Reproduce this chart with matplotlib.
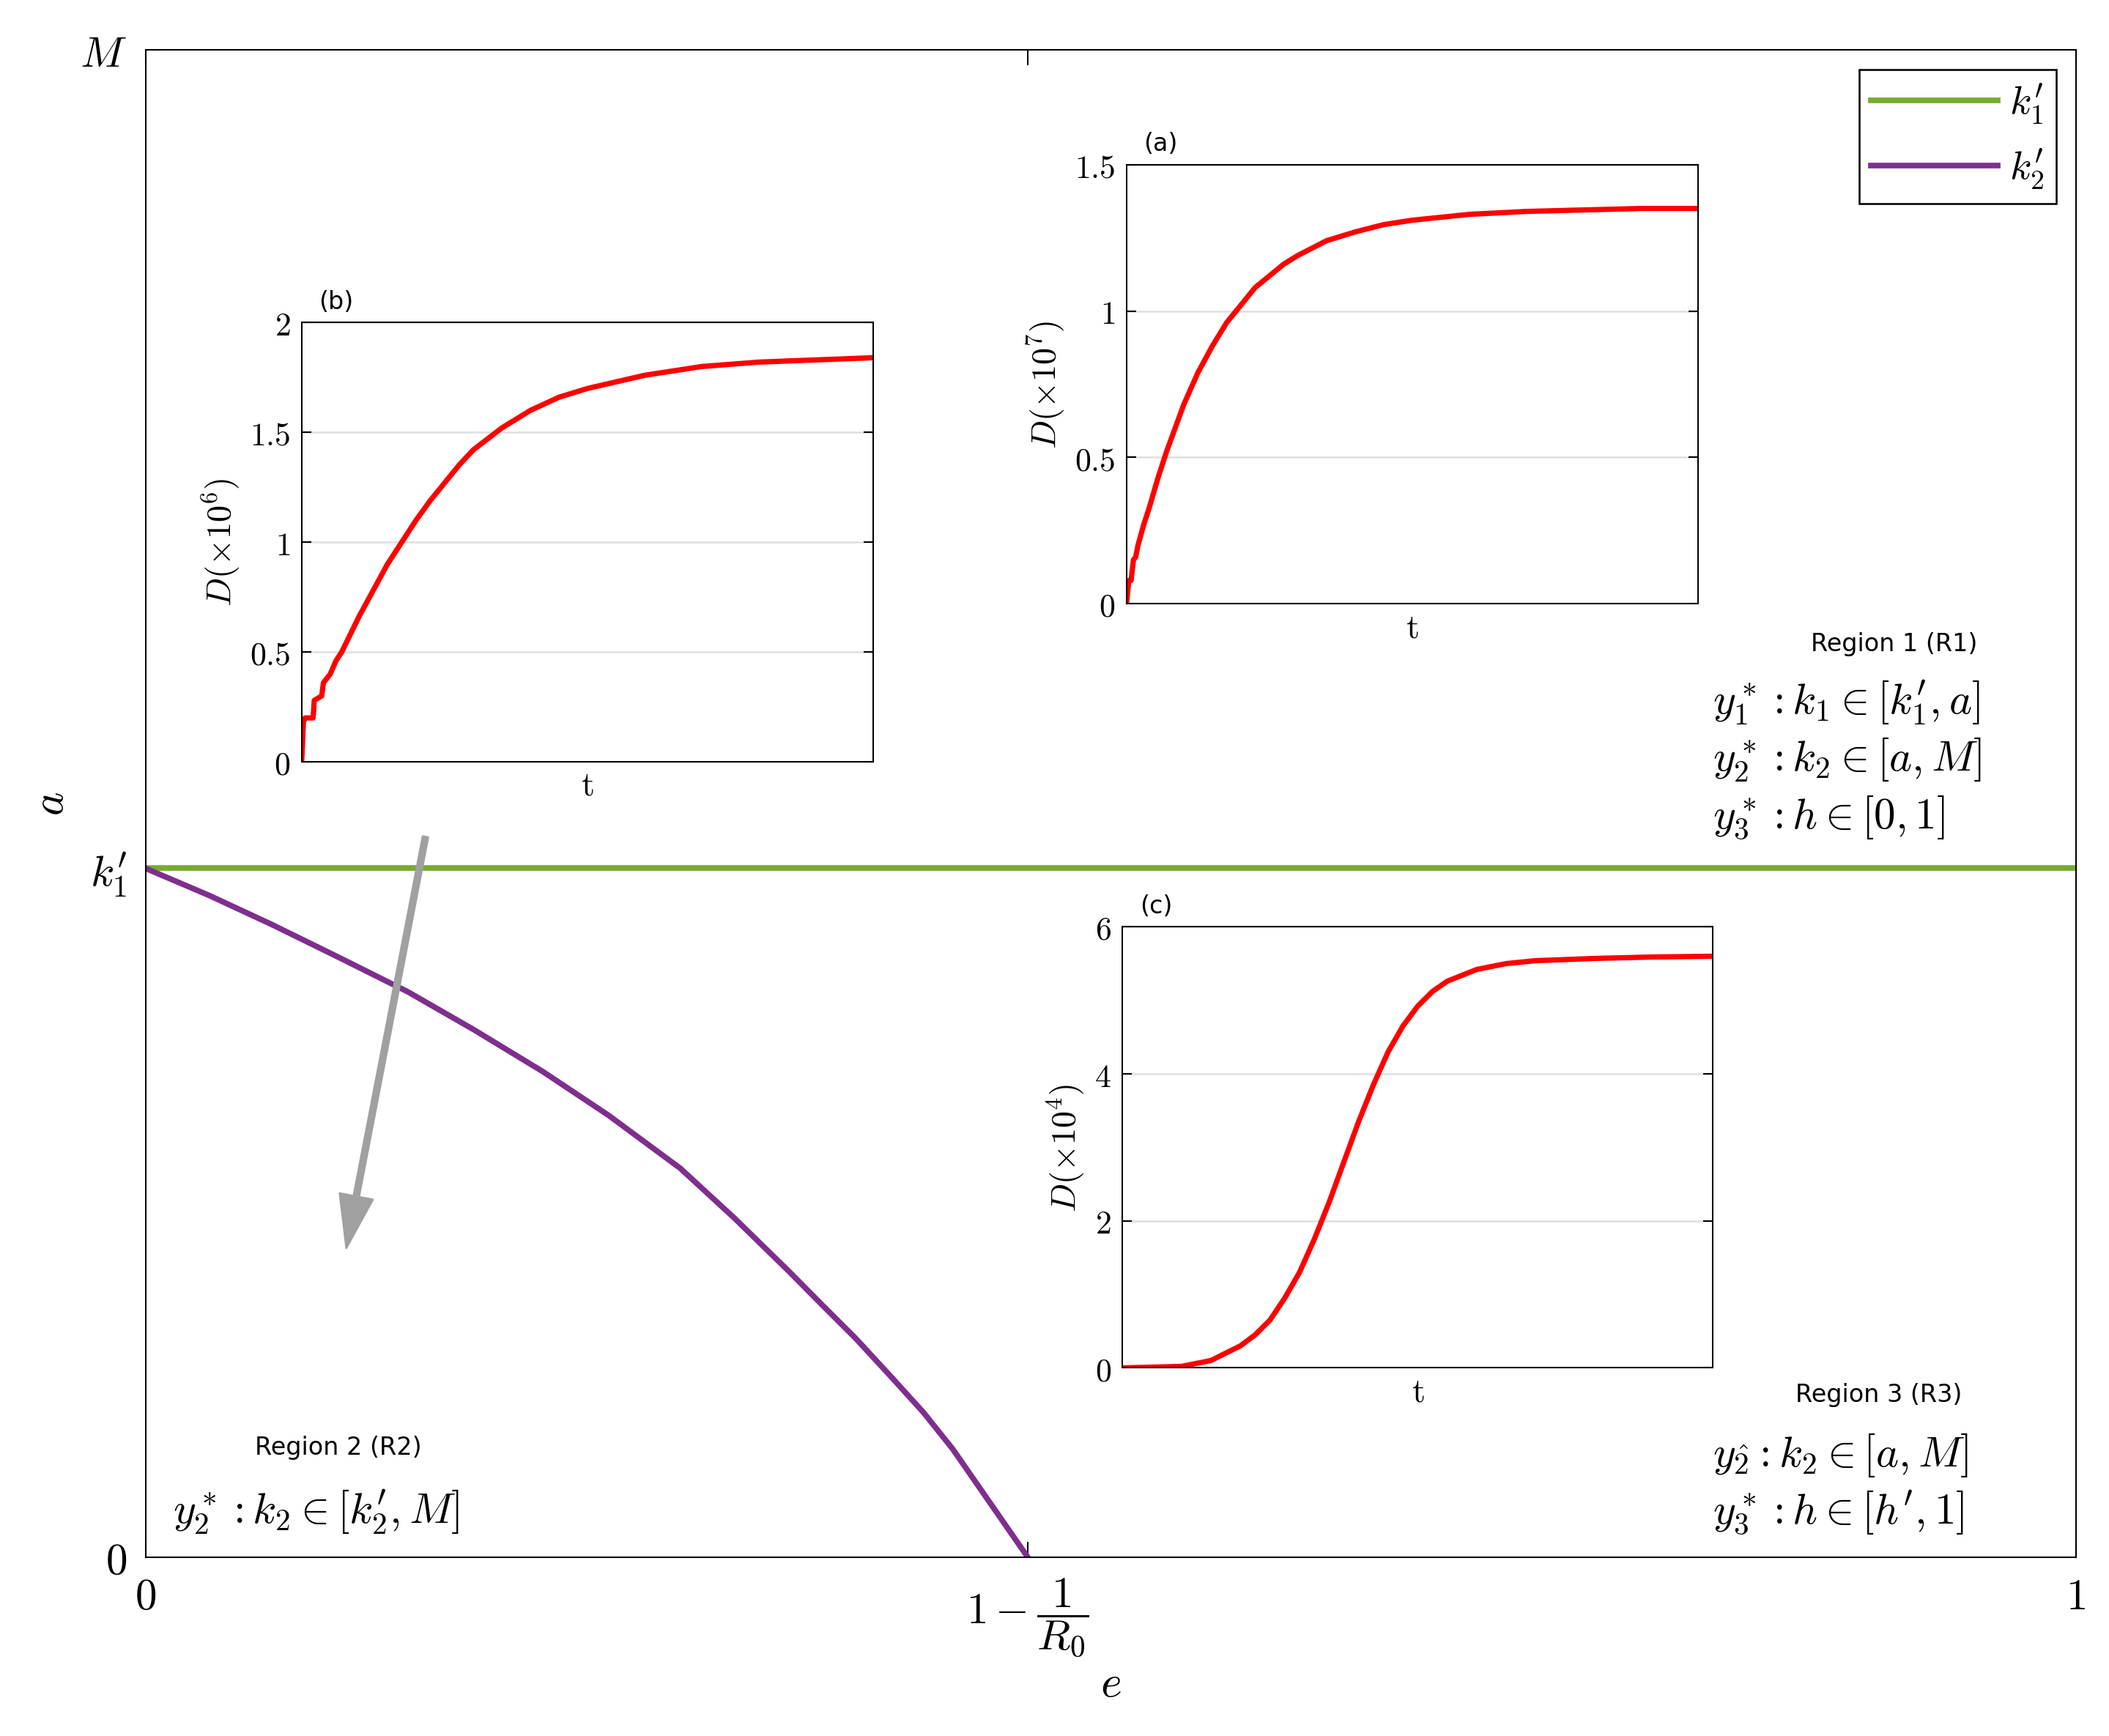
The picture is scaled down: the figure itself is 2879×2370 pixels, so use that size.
import matplotlib
matplotlib.use("Agg")
import matplotlib.pyplot as plt
import numpy as np

plt.rcParams['mathtext.fontset'] = 'cm'

k1p = 0.457
xcrit = 0.457
curve_x = [0.0, 0.033, 0.065, 0.100, 0.136, 0.170, 0.206, 0.240, 0.277, 0.305, 0.333, 0.350, 0.368, 0.386, 0.403, 0.418, 0.431, 0.444, 0.457]
curve_y = [0.457, 0.439, 0.420, 0.398, 0.375, 0.350, 0.322, 0.293, 0.258, 0.225, 0.190, 0.168, 0.145, 0.120, 0.096, 0.072, 0.048, 0.024, 0.0]

ta = [0, 0.004, 0.008, 0.012, 0.016, 0.02, 0.03, 0.04, 0.055, 0.07, 0.085, 0.1, 0.125, 0.15, 0.175, 0.2, 0.225, 0.25, 0.275, 0.3, 0.35, 0.4, 0.45, 0.5, 0.6, 0.7, 0.8, 0.9, 1.0]
Da = [0, 0.08, 0.08, 0.15, 0.16, 0.2, 0.27, 0.33, 0.43, 0.52, 0.6, 0.68, 0.79, 0.88, 0.96, 1.02, 1.08, 1.12, 1.16, 1.19, 1.24, 1.27, 1.295, 1.31, 1.33, 1.34, 1.345, 1.35, 1.35]
tb = [0, 0.003, 0.006, 0.02, 0.022, 0.035, 0.038, 0.05, 0.06, 0.07, 0.085, 0.1, 0.125, 0.15, 0.175, 0.2, 0.225, 0.25, 0.275, 0.3, 0.35, 0.4, 0.45, 0.5, 0.6, 0.7, 0.8, 0.9, 1.0]
Db = [0, 0.18, 0.2, 0.2, 0.28, 0.3, 0.36, 0.4, 0.46, 0.5, 0.58, 0.66, 0.78, 0.9, 1.0, 1.1, 1.19, 1.27, 1.35, 1.42, 1.52, 1.6, 1.66, 1.7, 1.76, 1.8, 1.82, 1.83, 1.84]
tc = [0, 0.1, 0.15, 0.2, 0.225, 0.25, 0.275, 0.3, 0.325, 0.35, 0.375, 0.4, 0.425, 0.45, 0.475, 0.5, 0.525, 0.55, 0.6, 0.65, 0.7, 0.8, 0.9, 1.0]
Dc = [0, 0.02, 0.1, 0.3, 0.45, 0.65, 0.95, 1.3, 1.75, 2.25, 2.8, 3.35, 3.85, 4.3, 4.65, 4.92, 5.12, 5.26, 5.42, 5.5, 5.54, 5.57, 5.59, 5.6]

fig = plt.figure(figsize=(15.55, 12.8), dpi=185.2)
ax = fig.add_axes([0.069, 0.103, 0.915, 0.868])
ax.set_xlim(0, 1); ax.set_ylim(0, 1)
ax.axhline(k1p, color='#77AC30', lw=3, label=r"$k_1'$")
ax.plot(curve_x, curve_y, color='#7E2F8E', lw=3, label=r"$k_2'$")
ax.set_xticks([0, xcrit, 1]); ax.set_xticklabels(['$0$', r'$1-\dfrac{1}{R_0}$', '$1$'], fontsize=23)
ax.set_yticks([0, k1p, 1]); ax.set_yticklabels(['$0$', "$k_1'$", '$M$'], fontsize=23)
ax.tick_params(direction='in', length=8, top=True, right=False, pad=10)
ax.set_xlabel('$e$', fontsize=24, labelpad=2)
ax.set_ylabel('$a$', fontsize=24, labelpad=4)
ax.legend(loc='upper right', fontsize=21, handlelength=3.2, handletextpad=0.3, borderpad=0.3,
          fancybox=False, edgecolor='black', framealpha=1)
ax.annotate('', xy=(0.104, 0.205), xytext=(0.145, 0.478),
            arrowprops=dict(color='#A0A0A0', width=3, headwidth=18, headlength=28))

ax.text(0.906, 0.606, 'Region 1 (R1)', fontsize=13, ha='center', va='center')
for i, s in enumerate([r"$y_1^*: k_1\in[k_1',a]$", r"$y_2^*: k_2\in[a,M]$", r"$y_3^*: h\in[0,1]$"]):
    ax.text(0.812, 0.567 - i*0.038, s, fontsize=23, ha='left', va='center')
ax.text(0.898, 0.108, 'Region 3 (R3)', fontsize=13, ha='center', va='center')
for i, s in enumerate([r"$y_{\hat{2}}: k_2\in[a,M]$", r"$y_3^*: h\in[h',1]$"]):
    ax.text(0.812, 0.068 - i*0.038, s, fontsize=23, ha='left', va='center')
ax.text(0.1, 0.073, 'Region 2 (R2)', fontsize=13, ha='center', va='center')
ax.text(0.014, 0.030, r"$y_2^*: k_2\in[k_2',M]$", fontsize=23, ha='left', va='center')

def inset(rect, t, D, ylim, yt, ytl, exp, tag):
    a = fig.add_axes(rect)
    a.plot(t, D, color='red', lw=2.8)
    a.set_xlim(0, 1); a.set_ylim(*ylim)
    a.set_yticks(yt); a.set_yticklabels(ytl, fontsize=17)
    a.set_xticks([])
    a.tick_params(direction='in', length=5, right=True, pad=6)
    a.grid(axis='y', color='#E0E0E0', lw=1)
    a.set_ylabel(r'$D(\times10^{%d})$' % exp, fontsize=18)
    a.set_xlabel(r'$\mathrm{t}$', fontsize=18)
    a.text(0.03, 1.02, tag, transform=a.transAxes, fontsize=13, ha='left', va='bottom')

inset([0.534, 0.652, 0.271, 0.253], ta, Da, (0, 1.5), [0, 0.5, 1, 1.5], ['$0$', '$0.5$', '$1$', '$1.5$'], 7, '(a)')
inset([0.143, 0.561, 0.271, 0.253], tb, Db, (0, 2), [0, 0.5, 1, 1.5, 2], ['$0$', '$0.5$', '$1$', '$1.5$', '$2$'], 6, '(b)')
inset([0.532, 0.212, 0.280, 0.254], tc, Dc, (0, 6), [0, 2, 4, 6], ['$0$', '$2$', '$4$', '$6$'], 4, '(c)')

fig.savefig('out.png', dpi=185.2)
